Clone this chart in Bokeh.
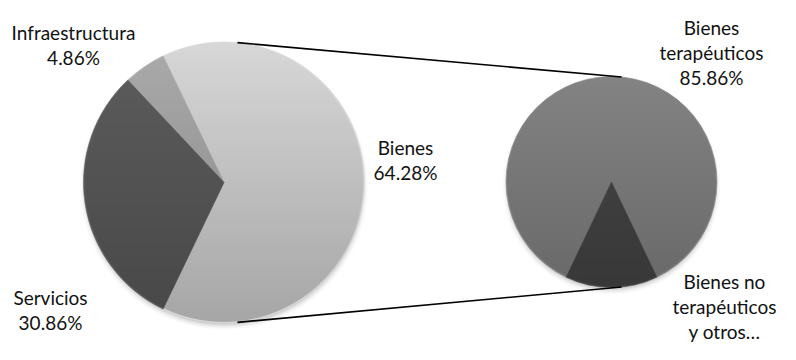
import numpy as np
from bokeh.plotting import figure
from bokeh.models import Range1d, ColumnDataSource
from bokeh.embed import file_html
from bokeh.resources import INLINE
from bokeh.core.properties import value

# ---------------- data ----------------
main_categories = ["Bienes", "Infraestructura", "Servicios"]
main_shares = [64.28, 4.86, 30.86]
main_pct_labels = ["64.28%", "4.86%", "30.86%"]

sub_categories = ["Bienes terapéuticos", "Bienes no terapéuticos y otros…"]
sub_shares = [85.86, 14.14]
sub_label_lines = [["Bienes", "terapéuticos", "85.86%"],
                   ["Bienes no", "terapéuticos", "y otros…"]]

# ---------------- styles / layout ----------------
main_colors = ["#d7d7d7", "#ababab", "#5d5d5d"]
sub_colors = ["#838383", "#464646"]

W, H = 780, 344
TOP = 360  # data y at top edge of the canvas
LEFT_C, LEFT_R = (223.5, 178.0), 140.5
RIGHT_C, RIGHT_R = (611.0, 178.5), 105.5
CONNECT_DEG = 84.5
FONT = "Lato"
FONT_SIZE = "19px"
LINE_STEP = 25

# label anchor (x centre, first baseline in data units) per category
main_label_pos = [(405, 213), (73, 328), (50, 63)]
sub_label_pos = [(711, 333), (724, 79)]

p = figure(width=W, height=H, x_range=Range1d(0, W), y_range=Range1d(TOP - H, TOP),
           output_backend="svg", toolbar_location=None, min_border=0,
           x_axis_location=None, y_axis_location=None)
p.grid.visible = False
p.outline_line_color = None
p.background_fill_color = "white"
p.border_fill_color = "white"


def rgba_image(n):
    img = np.zeros((n, n), dtype=np.uint32)
    return img, img.view(dtype=np.uint8).reshape((n, n, 4))


def shadow(center, r, pad=14, off=3.5, blur=8.0, amax=0.32):
    cx, cy = center
    R = r + pad
    n = int(np.ceil(2 * R))
    img, v = rgba_image(n)
    g = (np.arange(n) + 0.5) * (2 * R / n) - R
    X, Y = np.meshgrid(g, g)
    d = np.hypot(X, Y + off)
    t = np.clip((d - (r - 3)) / blur, 0, 1)
    a = amax * (1 - t) ** 2
    v[..., 0] = 90
    v[..., 1] = 90
    v[..., 2] = 90
    v[..., 3] = (a * 255).astype(np.uint8)
    p.image_rgba(image=[img], x=cx - R, y=cy - R, dw=2 * R, dh=2 * R)


def shade(center, r, amax):
    cx, cy = center
    n = int(np.ceil(2 * r))
    img, v = rgba_image(n)
    g = (np.arange(n) + 0.5) * (2 * r / n) - r
    X, Y = np.meshgrid(g, g)
    d = np.hypot(X, Y)
    inside = np.clip(r - 0.6 - d, 0, 1)
    frac = (Y + r) / (2 * r)          # 0 at bottom, 1 at top
    a = amax * (1 - frac) * inside
    v[..., 3] = (a * 255).astype(np.uint8)
    p.image_rgba(image=[img], x=cx - r, y=cy - r, dw=2 * r, dh=2 * r)


def wedges(center, r, shares, colors, start):
    starts, ends = [], []
    cur = start
    for s in shares:
        starts.append(cur)
        cur = cur + s / 100 * 2 * np.pi
        ends.append(cur)
    src = ColumnDataSource(dict(start=starts, end=ends, color=colors))
    p.wedge(x=center[0], y=center[1], radius=r, start_angle="start", end_angle="end",
            fill_color="color", line_color="color", line_width=0.6, source=src)


# shadows
shadow(LEFT_C, LEFT_R)
shadow(RIGHT_C, RIGHT_R)

# main pie: first slice (Bienes) centred on the right-pointing direction
wedges(LEFT_C, LEFT_R, main_shares, main_colors, -main_shares[0] / 100 * np.pi)
# sub pie: second slice centred at bottom
sub_start = 1.5 * np.pi + sub_shares[1] / 100 * np.pi
wedges(RIGHT_C, RIGHT_R, sub_shares, sub_colors, sub_start)

shade(LEFT_C, LEFT_R, 0.23)
shade(RIGHT_C, RIGHT_R, 0.2)

# connector lines
a = np.deg2rad(CONNECT_DEG)
x0 = [LEFT_C[0] + LEFT_R * np.cos(a)] * 2
y0 = [LEFT_C[1] + LEFT_R * np.sin(a), LEFT_C[1] - LEFT_R * np.sin(a)]
x1 = [RIGHT_C[0] + RIGHT_R * np.cos(a)] * 2
y1 = [RIGHT_C[1] + RIGHT_R * np.sin(a), RIGHT_C[1] - RIGHT_R * np.sin(a)]
p.segment(x0=x0, y0=y0, x1=x1, y1=y1, line_color="black", line_width=1.6)

# labels
tx, ty, tt = [], [], []
main_label_lines = [[c, pct] for c, pct in zip(main_categories, main_pct_labels)]
for lines, (lx, ly) in list(zip(main_label_lines, main_label_pos)) + list(zip(sub_label_lines, sub_label_pos)):
    for i, line in enumerate(lines):
        tx.append(lx)
        ty.append(ly - i * LINE_STEP)
        tt.append(line)
p.text(x=tx, y=ty, text=tt, text_font=value(FONT), text_font_size=FONT_SIZE,
       text_align="center", text_baseline="alphabetic", text_color="#111111")

open("out.html", "w").write(file_html(p, INLINE))
